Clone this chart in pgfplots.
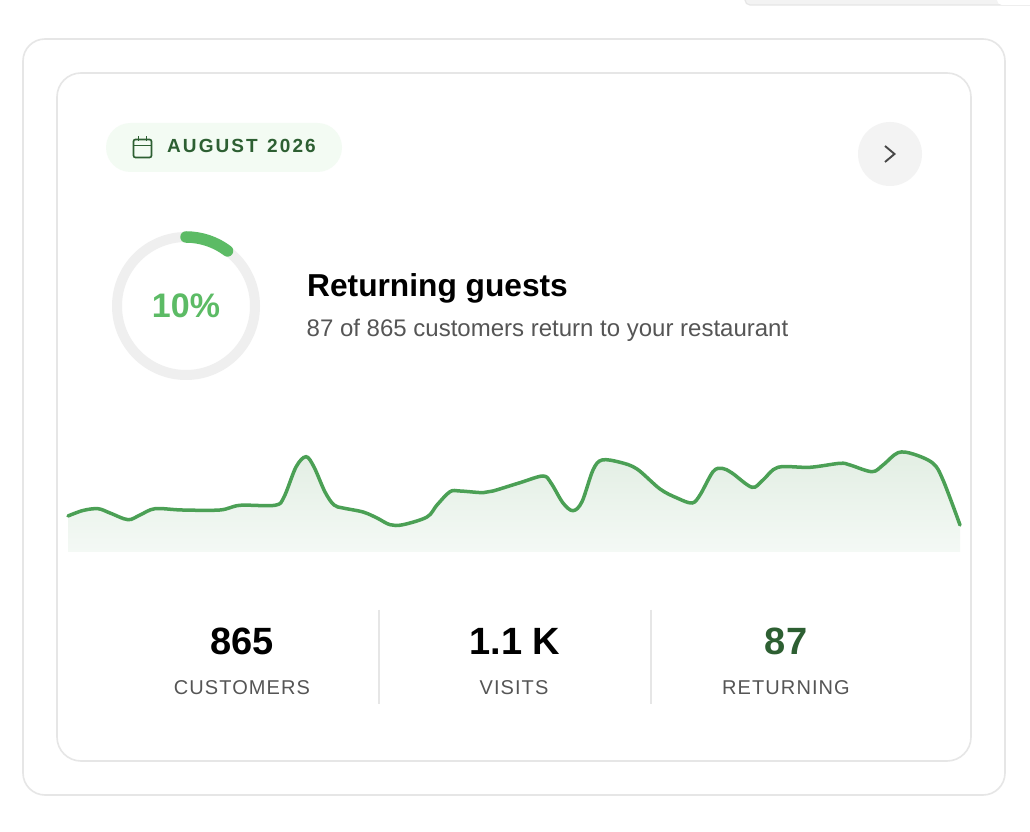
\documentclass[border=0pt]{standalone}
\usepackage{fontspec}
\setmainfont{Liberation Sans}
\newfontface\spaced[LetterSpace=5.4]{Liberation Sans}
\newfontface\spacedb[LetterSpace=11]{Liberation Sans Bold}
\usepackage{pgfplots}
\pgfplotsset{compat=1.18}
\definecolor{cardline}{HTML}{E6E6E6}
\definecolor{dgreen}{HTML}{2D5F32}
\definecolor{lgreen}{HTML}{5CBB65}
\definecolor{linegreen}{HTML}{4BA055}
\definecolor{pill}{HTML}{F3FBF3}
\definecolor{txtgrey}{HTML}{555555}
\definecolor{btn}{HTML}{F3F3F3}
\definecolor{ring}{HTML}{EFEFEF}
\definecolor{areatop}{HTML}{E2EEE3}
\definecolor{areabot}{HTML}{F4F9F5}
\pgfplotstableread{
x y
68 316
83 321.5
98 323.3
110 319
128 312.3
140 317
155 323.3
182 322
220 322
240 326.7
275 326.7
284 335
296 365
306 375.3
314 365
325 340
334 327
343 324
363 320
377 314
390 307.3
403 307.3
427 315
437 327
450 340.3
460 341
483 339.3
493 341
520 349.3
543 356
551 349
563 329
573 321.3
582 330.3
593 362
602 372
620 369.7
637 363
660 343
677 334
692 329
700 337
713 360.3
722 363.7
732 359
752 344.7
763 352
778 364.7
810 364.7
840 368.7
850 367
872 360.3
883 367
898 379.3
913 378
933 368.7
943 352
960 307
}\spark
\begin{document}
\begin{tikzpicture}[x=1pt,y=1pt]
\path[use as bounding box] (0,0) rectangle (1030,832);
\clip (0,0) rectangle (1030,832);
\begin{scope}[shift={(0,832)},x=1pt,y=-1pt]
\fill[white] (0,0) rectangle (1030,832);
% stub at the top
\draw[cardline,line width=1.2pt,fill=btn,rounded corners=5pt] (745,-10) rectangle (1040,5);
\fill[white,rounded corners=5pt] (997,-10) rectangle (1040,5);
% cards
\draw[cardline,line width=1.6pt,rounded corners=22pt] (23,39) rectangle (1005,795);
\draw[cardline,line width=1.6pt,rounded corners=24pt] (57,73) rectangle (971,761);
% pill
\fill[pill,rounded corners=24.5pt] (106,123) rectangle (342,172);
% calendar
\draw[dgreen,line width=1.7pt,rounded corners=2pt] (133.5,139.5) rectangle (151.5,157.5);
\draw[dgreen,line width=1.7pt] (133.5,145.5) -- (151.5,145.5) (138.5,136.5) -- (138.5,141) (146.5,136.5) -- (146.5,141);
\node[anchor=base west,inner sep=0,text=dgreen,font=\fontsize{19}{19}\spacedb] at (167,152.5) {AUGUST\hspace{2pt} 2026};
% button
\fill[btn] (890,154) circle[radius=32];
\draw[black!72,line width=1.9pt] (885,146) -- (894.5,154) -- (885,162);
% ring
\draw[ring,line width=10pt] (186,306) circle[radius=69];
\draw[lgreen,line width=11.5pt,line cap=round] (186,237) arc[start angle=-90,end angle=-53,radius=69];
\node[anchor=base,inner sep=0,text=lgreen,font=\fontsize{34}{34}\bfseries] at (186,318) {10\%};
% text
\node[anchor=base west,inner sep=0,text=black,font=\fontsize{31.7}{32}\bfseries] at (307,297) {Returning guests};
\node[anchor=base west,inner sep=0,text=txtgrey,font=\fontsize{24}{24}\selectfont] at (306.5,337) {87 of 865 customers return to your restaurant};
% stats
\draw[cardline,line width=1.3pt] (379,610) -- (379,704) (651,610) -- (651,704);
\node[anchor=base,inner sep=0,text=black,font=\fontsize{38}{38}\bfseries] at (242,655) {865};
\node[anchor=base,inner sep=0,text=black,font=\fontsize{38}{38}\bfseries] at (515,655) {1.1 K};
\node[anchor=base,inner sep=0,text=dgreen,font=\fontsize{38}{38}\bfseries] at (786,655) {87};
\node[anchor=base,inner sep=0,text=txtgrey,font=\fontsize{20}{20}\spaced] at (242,695) {CUSTOMERS};
\node[anchor=base,inner sep=0,text=txtgrey,font=\fontsize{20}{20}\spaced] at (514,695) {VISITS};
\node[anchor=base,inner sep=0,text=txtgrey,font=\fontsize{20}{20}\spaced] at (786,695) {RETURNING};
\end{scope}
\begin{axis}[at={(0pt,0pt)},anchor=origin,scale only axis,width=1030pt,height=832pt,
  xmin=0,xmax=1030,ymin=0,ymax=832,hide axis,clip=false]
\addplot[draw=none,top color=areatop,bottom color=areabot,smooth,tension=0.55] table[x=x,y=y] {\spark} -- (axis cs:960,280) -- (axis cs:68,280) -- cycle;
\addplot[linegreen,line width=3.5pt,smooth,tension=0.55,line cap=round] table[x=x,y=y] {\spark};
\end{axis}
\end{tikzpicture}
\end{document}
